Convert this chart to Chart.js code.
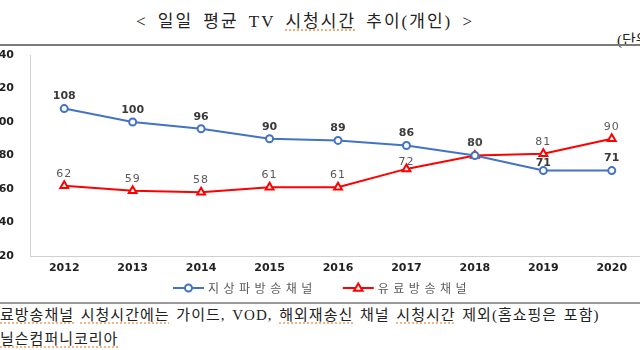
<!DOCTYPE html>
<html>
<head>
<meta charset="utf-8">
<script src="https://cdn.jsdelivr.net/npm/chart.js@4.4.1/dist/chart.umd.min.js"></script>
<style>
  body { margin: 0; width: 640px; height: 350px; overflow: hidden; position: relative; background: #fff; }
  .serif { font-family: "Liberation Serif", "Noto Sans CJK KR", serif; color: #222; white-space: nowrap; position: absolute; }
  #title { top: 7px; left: 0; width: 610px; text-align: center; font-size: 17px; letter-spacing: 2px; word-spacing: 4px; }
  #unit { top: 28px; left: 617px; font-size: 15px; }
  .rule { position: absolute; left: 0; width: 640px; }
  #wrap { position: absolute; left: -20px; top: 0; width: 680px; height: 300px; }
  .note { font-size: 15px; left: 0; letter-spacing: 1px; }
  .sp { text-decoration: underline dotted #f0a060; text-underline-offset: 3px; }
</style>
</head>
<body>
<div id="title" class="serif">&lt; 일일 평균 TV <span class="sp">시청시간</span> 추이(개인) &gt;</div>
<div id="unit" class="serif">(단위: 분)</div>
<div class="rule" style="top:44px;height:1.5px;background:#7a7a7a"></div>
<div id="wrap"><canvas id="chart" width="680" height="300"></canvas></div>
<div class="rule" style="top:302px;height:1.5px;background:#9a9a9a"></div>
<div class="serif note" style="top:303px;word-spacing:2px"><span class="sp">료방송채널</span> <span class="sp">시청시간에는</span> 가이드, VOD, <span class="sp">해외재송신</span> 채널 <span class="sp">시청시간</span> 제외(홈쇼핑은 포함)</div>
<div class="serif note" style="top:327px"><span class="sp">닐슨컴퍼니코리아</span></div>
<script>
const Years = ["2012", "2013", "2014", "2015", "2016", "2017", "2018", "2019", "2020"];
const Terrestrial = [108, 100, 96, 90, 89, 86, 80, 71, 71];
const PayTV = [62, 59, 58, 61, 61, 72, 80, 81, 90];
const YTicks = [20, 40, 60, 80, 100, 120, 140];
const SeriesNames = ["지상파방송채널", "유료방송채널"];

// values above each point (squeezed down when the other line's marker sits just above)
const valueLabels = {
  id: "valueLabels",
  afterDatasetsDraw(chart) {
    const ctx = chart.ctx;
    const metas = chart.data.datasets.map((d, i) => chart.getDatasetMeta(i));
    chart.data.datasets.forEach((ds, i) => {
      ctx.save();
      ctx.font = i == 0 ? "bold 11px 'DejaVu Sans'" : "11px 'DejaVu Sans'";
      ctx.fillStyle = i == 0 ? "#3a3a3a" : "#595959";
      ctx.letterSpacing = i == 0 ? "0px" : "1px";
      ctx.textAlign = "center";
      ctx.textBaseline = "middle";
      metas[i].data.forEach((p, j) => {
        let off = 12;
        metas.forEach((m, k) => {
          if (k == i) return;
          const dy = p.y - m.data[j].y;
          if (dy > 4 && dy < 24) off = 7;
        });
        ctx.fillText(ds.data[j], p.x, p.y - off);
      });
      ctx.restore();
    });
  },
};

// legend: line + marker + spaced text
const lineLegend = {
  id: "lineLegend",
  afterDraw(chart) {
    const ctx = chart.ctx;
    ctx.save();
    ctx.font = "12px 'Noto Sans CJK KR'";
    ctx.letterSpacing = "4.5px";
    ctx.textBaseline = "middle";
    const lineW = 31, gapText = 4, gapItem = 26;
    const items = chart.data.datasets.map((ds) => ({ ds, w: lineW + gapText + ctx.measureText(ds.label).width }));
    const total = items.reduce((s, it) => s + it.w, 0) + gapItem * (items.length - 1);
    let x = (chart.width - total) / 2 + 2;
    const y = 288;
    items.forEach(({ ds }, i) => {
      ctx.strokeStyle = ds.borderColor;
      ctx.lineWidth = ds.borderWidth;
      ctx.beginPath(); ctx.moveTo(x, y); ctx.lineTo(x + lineW, y); ctx.stroke();
      ctx.fillStyle = "#fff"; ctx.strokeStyle = ds.borderColor; ctx.lineWidth = ds.pointBorderWidth;
      ctx.beginPath();
      const r = ds.pointRadius, cx = x + lineW / 2;
      if (ds.pointStyle == "circle") ctx.arc(cx, y, r, 0, Math.PI * 2);
      else {
        ctx.moveTo(cx, y - r); ctx.lineTo(cx + r * 0.95, y + r * 0.6); ctx.lineTo(cx - r * 0.95, y + r * 0.6); ctx.closePath();
      }
      ctx.fill(); ctx.stroke();
      ctx.fillStyle = "#595959";
      ctx.fillText(ds.label, x + lineW + gapText, y);
      x += items[i].w + gapItem;
    });
    ctx.restore();
  },
};

new Chart(document.getElementById("chart"), {
  type: "line",
  data: {
    labels: Years,
    datasets: [
      {
        label: SeriesNames[0], data: Terrestrial,
        borderColor: "#4472C4", borderWidth: 2, pointStyle: "circle", pointRadius: 3.5,
        pointBorderWidth: 2, pointBackgroundColor: "#fff", pointBorderColor: "#4472C4",
      },
      {
        label: SeriesNames[1], data: PayTV,
        borderColor: "#FF0000", borderWidth: 2, pointStyle: "triangle", pointRadius: 4.5,
        pointBorderWidth: 2, pointBackgroundColor: "#fff", pointBorderColor: "#FF0000",
      },
    ],
  },
  options: {
    responsive: false,
    animation: false,
    layout: { padding: { top: 55, right: 14, bottom: 24, left: 0 } },
    plugins: { legend: { display: false }, tooltip: { enabled: false } },
    scales: {
      x: {
        offset: true,
        grid: { display: false, drawTicks: false },
        border: { color: "#d0d0d0", width: 1 },
        ticks: { color: "#222", padding: 6, font: { family: "DejaVu Sans", size: 11, weight: "bold" } },
        afterFit: (s) => { s.height = 20; },
      },
      y: {
        min: 20, max: 140,
        grid: { display: false, drawTicks: false },
        border: { color: "#d0d0d0", width: 1 },
        ticks: { color: "#222", padding: 16, font: { family: "DejaVu Sans", size: 11, weight: "bold" } },
        afterBuildTicks: (s) => { s.ticks = YTicks.map((v) => ({ value: v })); },
        afterFit: (s) => { s.width = 50; },
      },
    },
  },
  plugins: [valueLabels, lineLegend],
});
</script>
</body>
</html>
